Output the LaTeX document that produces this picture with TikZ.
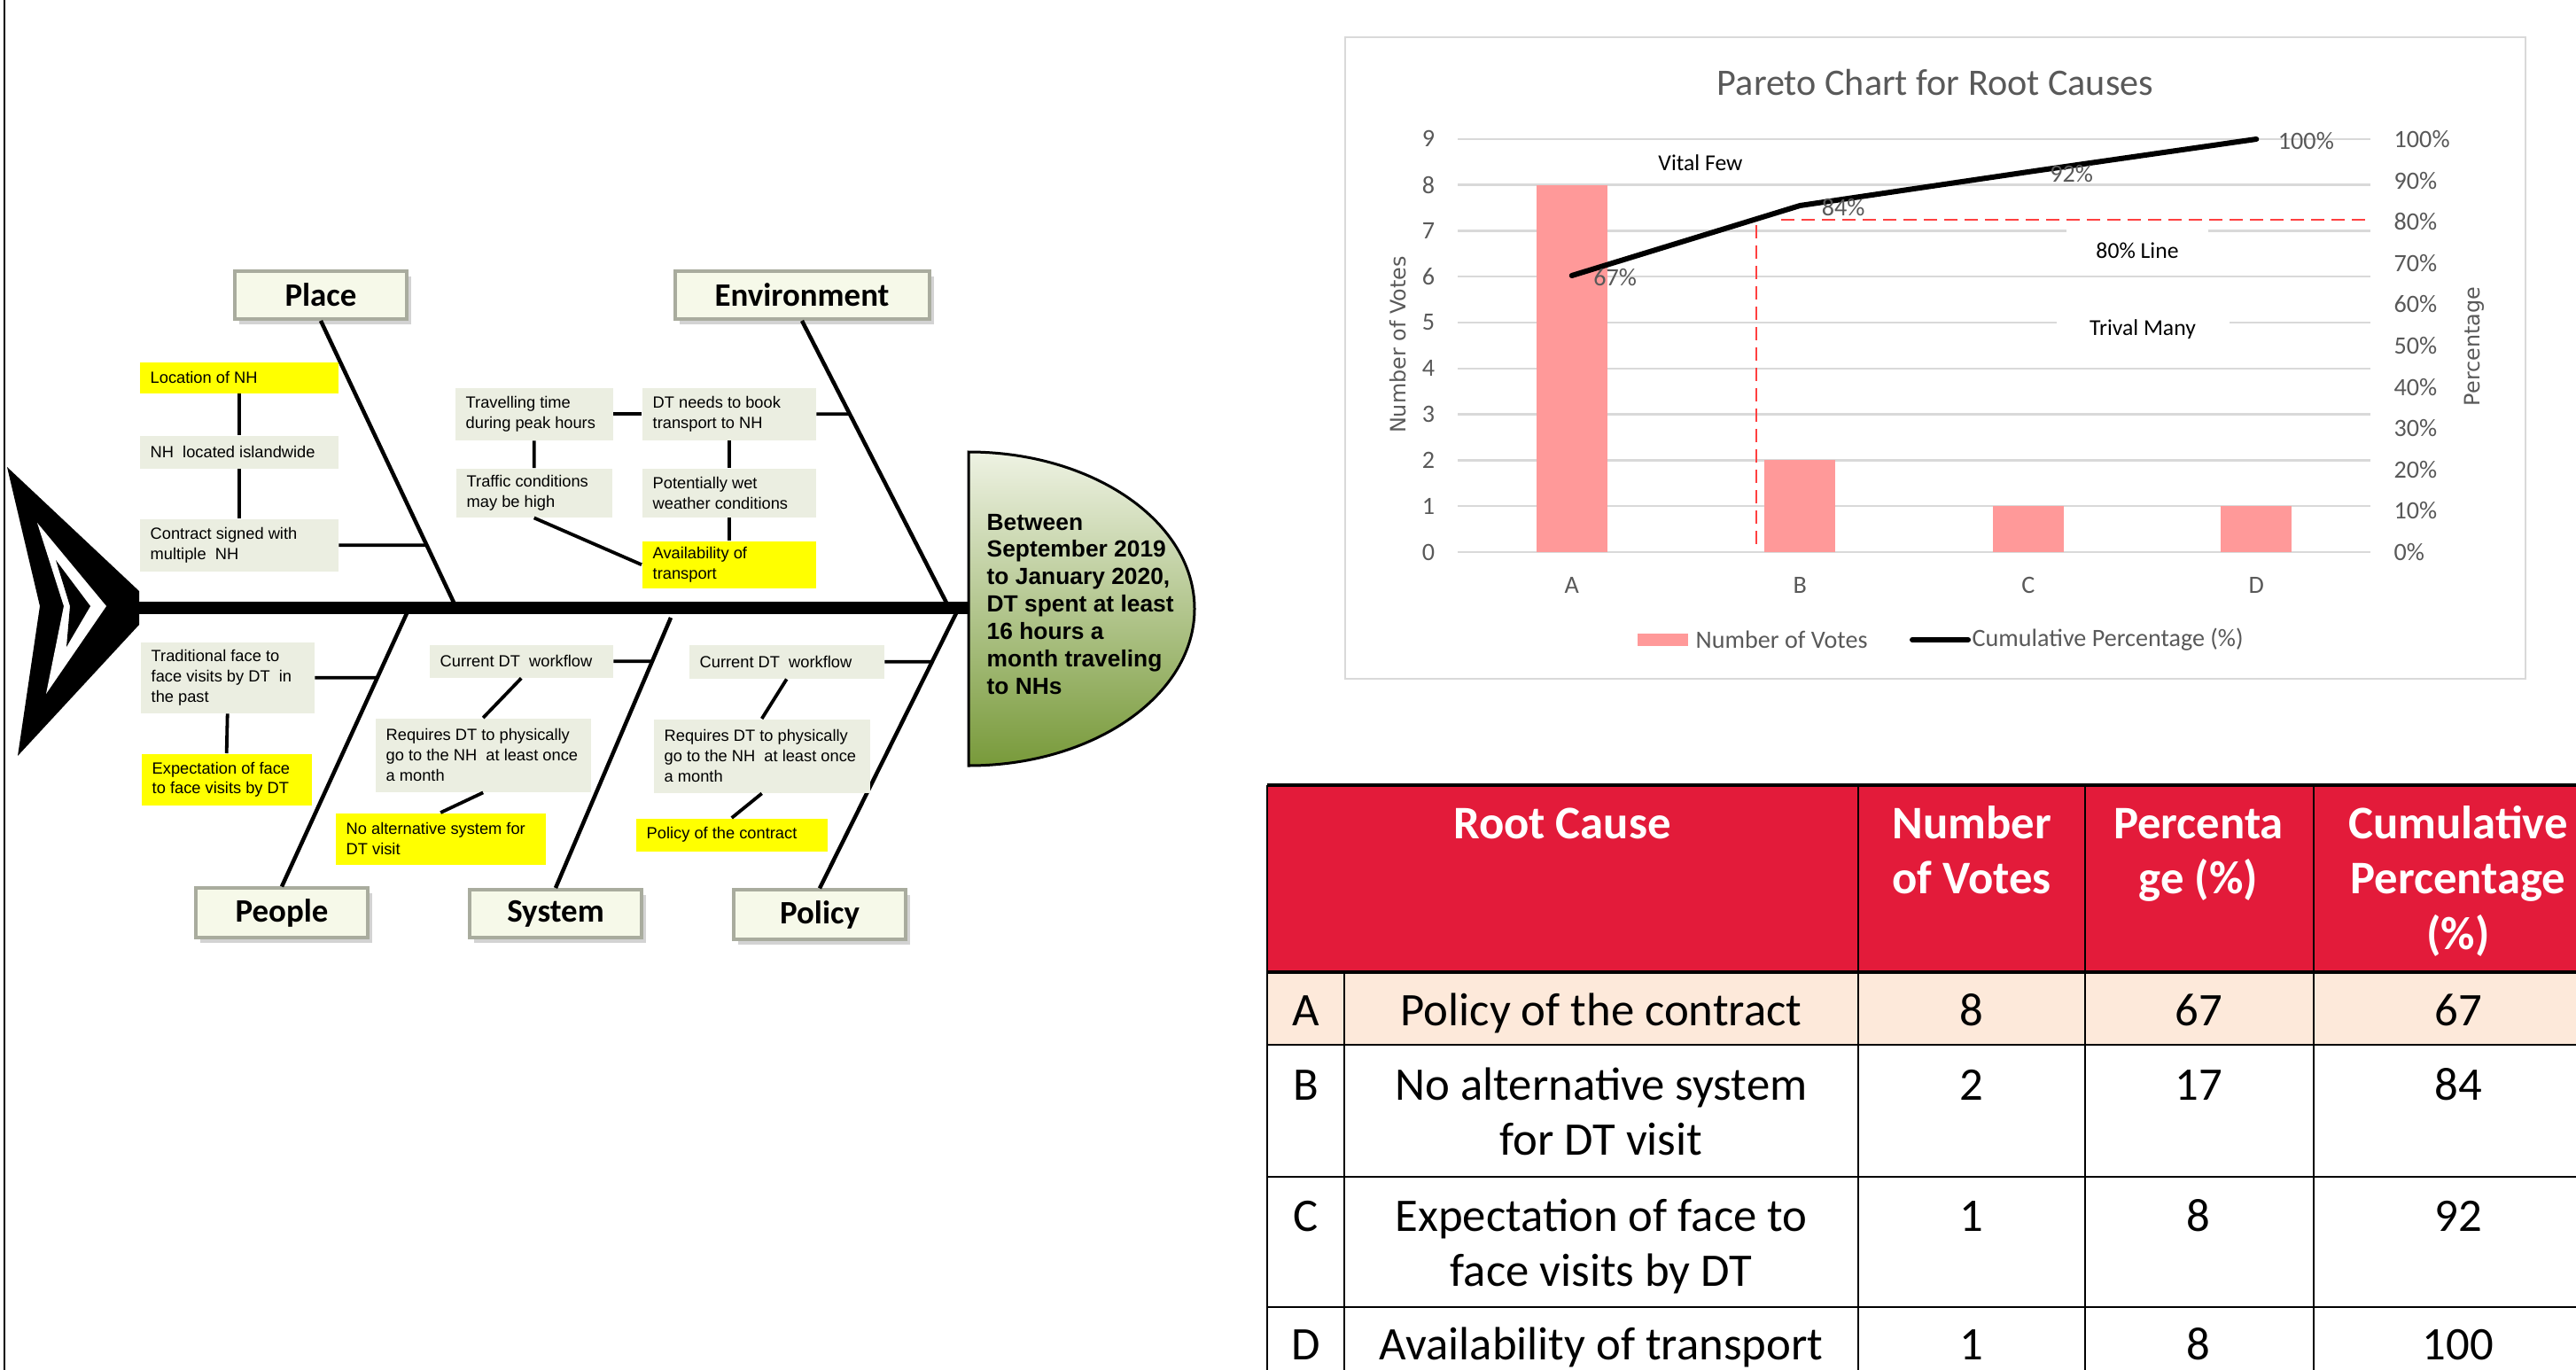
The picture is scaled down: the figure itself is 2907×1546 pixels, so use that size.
\documentclass[tikz,border=0pt]{standalone}
\usepackage{fontspec}
\setmainfont{Liberation Sans}
\newfontfamily\calfont{Carlito}
\newfontfamily\axfont{DejaVu Sans}
\usetikzlibrary{shadows}

\definecolor{causebg}{HTML}{EBEEE1}
\definecolor{hilite}{HTML}{FFFF00}
\definecolor{catbg}{HTML}{F6F9E9}
\definecolor{catedge}{HTML}{A9AC9E}
\definecolor{headtop}{HTML}{EEF2E3}
\definecolor{headmid}{HTML}{D3DEBB}
\definecolor{headbot}{HTML}{789A3A}
\definecolor{barpink}{HTML}{FF9999}
\definecolor{gridgray}{HTML}{D9D9D9}
\definecolor{axisgray}{HTML}{595959}
\definecolor{cutred}{HTML}{FF4040}
\definecolor{hdrred}{HTML}{E31B3A}
\definecolor{rowpeach}{HTML}{FDE9DA}

\newcommand{\causefont}{\fontsize{5.2}{6.5}\selectfont}
\newcommand{\catfont}{\calfont\bfseries\fontsize{10.5}{12}\selectfont}
\newcommand{\headfont}{\bfseries\fontsize{7.5}{8.8}\selectfont}
\newcommand{\tblfont}{\calfont\fontsize{15}{17.9}\selectfont}
\newcommand{\chartfont}{\calfont\fontsize{8}{9.6}\selectfont}

\tikzset{
  cause/.style={fill=causebg, font=\causefont, align=flush left, inner xsep=1.2mm, inner ysep=0pt, anchor=north west},
  hot/.style={cause, fill=hilite},
  category/.style={fill=catbg, draw=catedge, line width=0.4mm, minimum width=19.4mm, minimum height=5.4mm,
    font=\catfont, drop shadow={shadow xshift=0.5mm, shadow yshift=-0.6mm, opacity=0.35}},
  bone/.style={line width=0.45mm},
  link/.style={line width=0.38mm},
  grid/.style={gridgray, line width=0.25mm},
  ticklbl/.style={font=\chartfont, text=axisgray, inner sep=0pt},
  axtitle/.style={font=\axfont\fontsize{6.8}{8}\selectfont, text=axisgray, inner sep=0pt},
  note/.style={font=\calfont\fontsize{7.3}{8.6}\selectfont, inner sep=0pt},
  datalbl/.style={font=\chartfont, text=axisgray, anchor=west, inner sep=0pt},
  cumline/.style={line width=0.6mm, line cap=round, line join=round},
  cut/.style={cutred, line width=0.22mm, dash pattern=on 1.5mm off 0.8mm},
  rule/.style={line width=0.25mm},
  tbl/.style={font=\tblfont, align=flush center, anchor=base, inner sep=0pt, text width=24mm},
  tblhead/.style={tbl, font=\tblfont\bfseries, text=white}
}

\begin{document}
\begin{tikzpicture}[x=0.1mm, y=-0.1mm]
\useasboundingbox (0,0) rectangle (2907,1546);
\clip (0,0) rectangle (2907,1546);

\draw[line width=0.2mm] (5,0) -- (5,1546);

% fish tail
\fill (8,527) -- (157,667) -- (157,705) -- (20,853) -- (45,684) -- cycle;
\fill[white] (42,590) -- (120,684) -- (52,783) -- (72,684) -- cycle;
\fill (63,632) -- (102,684) -- (75,730) -- (79,684) -- cycle;

% spine and head
\coordinate (tail) at (150,686);
\coordinate (neck) at (1095,686);
\draw[line width=1.4mm] (tail) -- (neck);
\draw[line width=0.3mm, top color=headtop, middle color=headmid, bottom color=headbot]
  (1093,510) arc[start angle=-90, end angle=90, x radius=255, y radius=177] -- cycle;
\node[anchor=base west, align=flush left, text width=24mm, font=\headfont, inner sep=0pt] (goal) at (1113,598)
  {Between\\September 2019\\to January 2020,\\DT spent at least\\16 hours a\\month traveling\\to NHs};

% categories
\node[category] (place) at (362,333) {Place};
\node[category, minimum width=28.7mm] (env) at (905,333) {Environment};
\node[category] (people) at (318,1030) {People};
\node[category] (system) at (627,1031) {System};
\node[category] (policy) at (925,1032) {Policy};

\coordinate (plsp) at (514,684);
\coordinate (envsp) at (1070,684);
\coordinate (pesp) at (460,690);
\coordinate (sysp) at (757,697);
\coordinate (posp) at (1080,690);
\draw[bone] (place.south) -- (plsp);
\draw[bone] (env.south) -- (envsp);
\draw[bone] (pesp) -- (people.north);
\draw[bone] (sysp) -- (system.north);
\draw[bone] (posp) -- (policy.north);

% place
\node[hot, text width=20mm, minimum height=3.5mm] (loc) at (157,408) {Location of NH};
\node[cause, text width=20mm, minimum height=3.7mm] (nhloc) at (157,491) {NH\ \ located islandwide};
\node[cause, text width=20mm, minimum height=5.9mm] (contract) at (157,585) {Contract signed with\\multiple\ \ NH};
\draw[link] (loc.south) -- (nhloc.north);
\draw[link] (nhloc.south) -- (contract.north);
\draw[link] (contract.east) -- (intersection of place.south--plsp and contract.east--contract.west);

% people
\node[cause, text width=17.2mm, minimum height=8mm] (trad) at (158,724) {Traditional face to\\face visits by DT\ \ in\\the past};
\node[hot, text width=16.8mm, minimum height=5.8mm] (expect) at (159,850) {Expectation of face\\to face visits by DT};
\draw[link] (trad.south) -- (expect.north);
\draw[link] (trad.east) -- (intersection of pesp--people.north and trad.east--trad.west);

% environment
\node[cause, text width=15.4mm, minimum height=5.9mm] (travel) at (513,437) {Travelling time\\during peak hours};
\node[cause, text width=17.2mm, minimum height=5.9mm] (book) at (724,437) {DT needs to book\\transport to NH};
\node[cause, text width=15.2mm, minimum height=5.5mm] (traffic) at (514,528) {Traffic conditions\\may be high};
\node[cause, text width=17.2mm, minimum height=5.5mm] (wet) at (724,528) {Potentially wet\\weather conditions};
\node[hot, text width=17.2mm, minimum height=5.3mm] (avail) at (724,610) {Availability of\\transport};
\draw[link] (travel.east) -- (book.west);
\draw[link] (book.east) -- (intersection of env.south--envsp and book.east--book.west);
\draw[link] (travel.south) -- (traffic.north);
\draw[link] (book.south) -- (wet.north);
\draw[link] (wet.south) -- (avail.north);
\draw[link] (traffic.south) -- (avail.west);

% system
\node[cause, text width=18.3mm, minimum height=3.7mm] (sysflow) at (484,727) {Current DT\ \ workflow};
\node[cause, text width=21.9mm, minimum height=8.3mm] (sysreq) at (423,810) {Requires DT to physically\\go to the NH\ \ at least once\\a month};
\node[hot, text width=21.3mm, minimum height=5.8mm] (noalt) at (378,917) {No alternative system for\\DT visit};
\draw[link] (sysflow.east) -- (intersection of sysp--system.north and sysflow.east--sysflow.west);
\draw[link] (sysflow.south) -- (sysreq.north);
\draw[link] (sysreq.south) -- (noalt.north);

% policy
\node[cause, text width=19.6mm, minimum height=3.8mm] (polflow) at (777,727) {Current DT\ \ workflow};
\node[cause, text width=22mm, minimum height=8.3mm] (polreq) at (737,811) {Requires DT to physically\\go to the NH\ \ at least once\\a month};
\node[hot, text width=19.2mm, minimum height=3.7mm] (polcon) at (717,923) {Policy of the contract};
\draw[link] (polflow.east) -- (intersection of posp--policy.north and polflow.east--polflow.west);
\draw[link] (polflow.south) -- (polreq.north);
\draw[link] (polreq.south) -- (polcon.north);

% pareto chart
\draw[gridgray, line width=0.2mm, fill=white] (1518,42) rectangle (2850,766);
\node[font=\calfont\fontsize{12}{14}\selectfont, text=axisgray, inner sep=0pt] (title) at (2184,93) {Pareto Chart for Root Causes};
\foreach \v in {0,...,9} {
  \draw[grid] (1645,{623-51.8*\v}) -- (2675,{623-51.8*\v});
  \node[ticklbl] (n\v) at (1612,{623-51.8*\v}) {\v};
}
\foreach \v/\p in {0/0,1/10,2/20,3/30,4/40,5/50,6/60,7/70,8/80,9/90,10/100}
  \node[ticklbl, anchor=west] (p\v) at (2701,{623-46.6*\v}) {\p\%};
\node[axtitle, rotate=90] (ytitle) at (1578,389) {Number of Votes};
\node[axtitle, rotate=90] (y2title) at (2792,391) {Percentage};
\foreach \c/\n [count=\i from 0] in {A/8,B/2,C/1,D/1} {
  \fill[barpink] ({1733.75+257.5*\i},623) rectangle ({1813.75+257.5*\i},{623-51.8*\n});
  \node[ticklbl] (cat\c) at ({1773.75+257.5*\i},660) {\c};
}
\node[note] (few) at (1919,184) {Vital Few};
\node[note, fill=white, minimum width=16mm, minimum height=5mm] (line80) at (2412,283) {80\% Line};
\node[note, fill=white, minimum width=19.5mm, minimum height=5mm] (many) at (2418,372) {Trival Many};

\coordinate (cuttop) at (1982,254);
\coordinate (cutbot) at (1982,620);
\coordinate (eightyl) at (2010,248);
\coordinate (eightyr) at (2675,248);
\draw[cut] (cuttop) -- (cutbot);
\draw[cut] (eightyl) -- (eightyr);

\coordinate (ptA) at (1773.75,311);
\coordinate (ptB) at (2031.25,232);
\coordinate (ptC) at (2288.75,194);
\coordinate (ptD) at (2546.25,157);
\draw[cumline] (ptA) -- (ptB) -- (ptC) -- (ptD);
\node[datalbl] (lA) at ([xshift=2.4mm, yshift=-0.2mm]ptA) {67\%};
\node[datalbl] (lB) at ([xshift=2.4mm, yshift=-0.2mm]ptB) {84\%};
\node[datalbl] (lC) at ([xshift=2.4mm, yshift=-0.2mm]ptC) {92\%};
\node[datalbl] (lD) at ([xshift=2.4mm, yshift=-0.2mm]ptD) {100\%};

% legend
\fill[barpink] (1848,715) rectangle (1905,729);
\node[ticklbl, anchor=west] (lg1) at (1913,722) {Number of Votes};
\coordinate (sw1) at (2158,722);
\coordinate (sw2) at (2221,722);
\draw[cumline] (sw1) -- (sw2);
\node[ticklbl, anchor=west] (lg2) at (2225,722) {Cumulative Percentage (\%)};

% table
\fill[hdrred] (1430,886) rectangle (2940,1097);
\fill[rowpeach] (1430,1097) rectangle (2940,1179);
\draw[line width=0.45mm] (1430,886) -- (2940,886);
\draw[line width=0.45mm] (1430,1097) -- (2940,1097);
\foreach \y in {1179,1328,1475}
  \draw[rule] (1430,\y) -- (2940,\y);
\foreach \x in {1430,2097,2353,2611}
  \draw[rule] (\x,886) -- (\x,1560);
\draw[rule] (1517,1097) -- (1517,1560);

\node[tblhead, text width=60mm] (hcause) at (1763,946) {Root Cause};
\node[tblhead] (hvotes) at (2225,946) {Number\\of Votes};
\node[tblhead] (hpct) at (2481,946) {Percenta\\ge (\%)};
\node[tblhead, text width=30mm] (hcum) at (2774,946) {Cumulative\\Percentage\\(\%)};

\foreach \r/\y/\txt/\v/\p/\c in {A/1157/{Policy of the contract}/8/67/67,
    B/1241/{No alternative system\\for DT visit}/2/17/84,
    C/1389/{Expectation of face to\\face visits by DT}/1/8/92,
    D/1534/{Availability of transport}/1/8/100} {
  \node[tbl, text width=8mm] (row\r) at (1474,\y) {\r};
  \node[tbl, text width=56mm] (cause\r) at (1807,\y) {\txt};
  \node[tbl] (votes\r) at (2225,\y) {\v};
  \node[tbl] (pct\r) at (2481,\y) {\p};
  \node[tbl, text width=30mm] (cum\r) at (2774,\y) {\c};
}
\end{tikzpicture}
\end{document}
